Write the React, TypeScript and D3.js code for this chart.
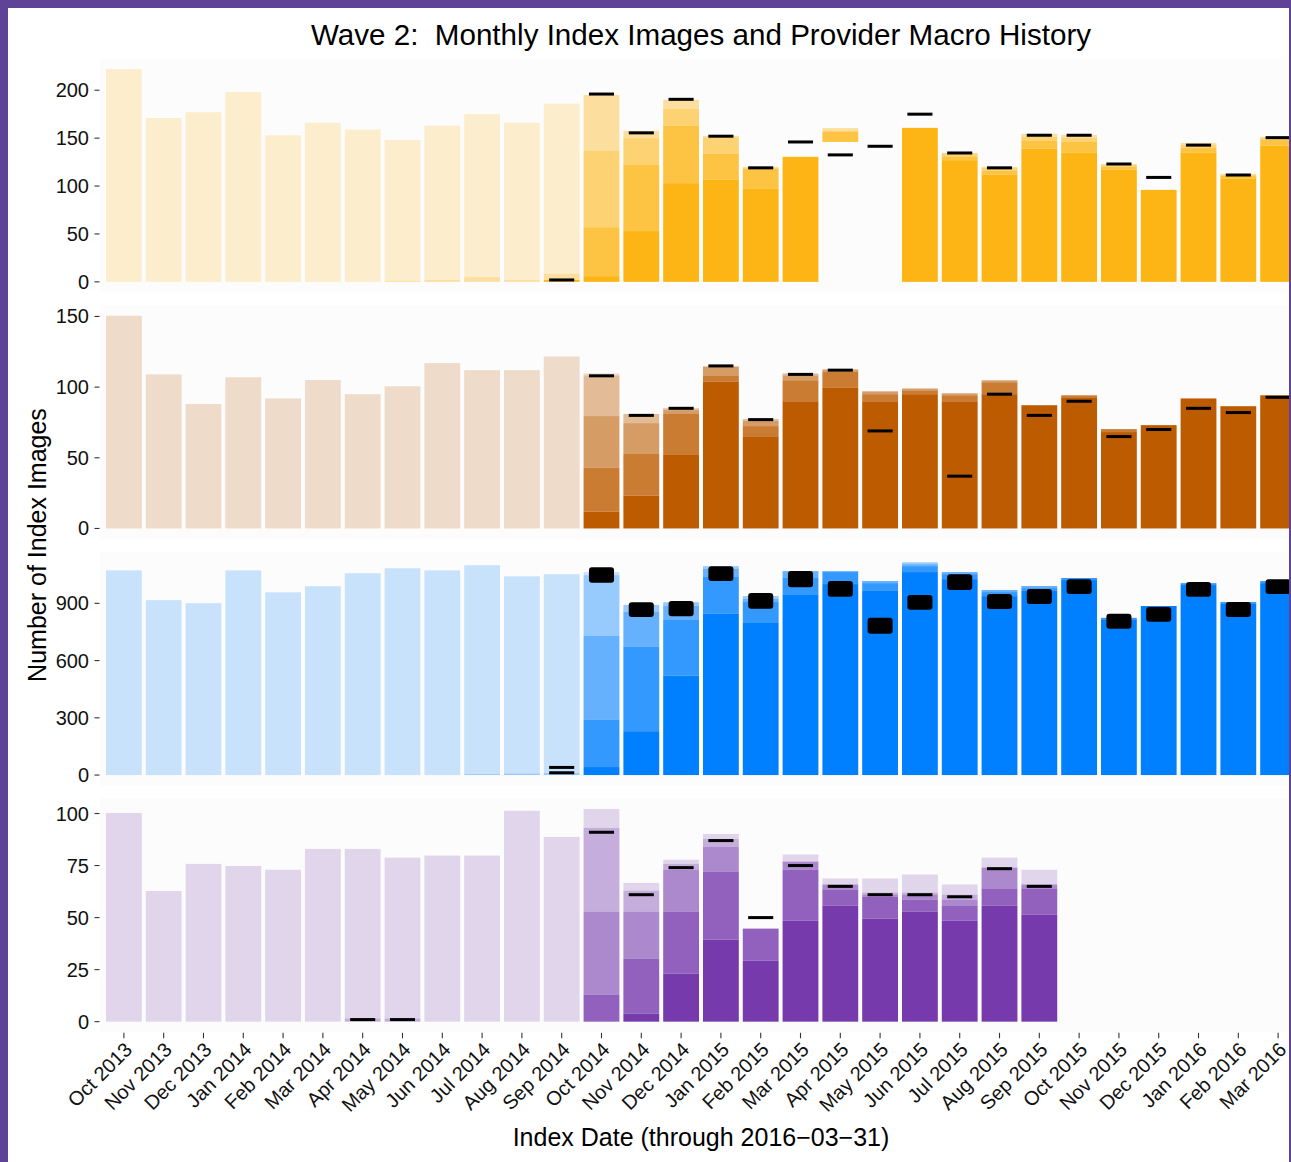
import React from "react";
import * as d3 from "d3";

const months = [
  "Oct 2013", "Nov 2013", "Dec 2013", "Jan 2014", "Feb 2014", "Mar 2014",
  "Apr 2014", "May 2014", "Jun 2014", "Jul 2014", "Aug 2014", "Sep 2014",
  "Oct 2014", "Nov 2014", "Dec 2014", "Jan 2015", "Feb 2015", "Mar 2015",
  "Apr 2015", "May 2015", "Jun 2015", "Jul 2015", "Aug 2015", "Sep 2015",
  "Oct 2015", "Nov 2015", "Dec 2015", "Jan 2016", "Feb 2016", "Mar 2016",
];

// ---- Panel 1 (gold) ----
const goldGap = [0,0,0,0,0,0,0,0,0,0,0,0, 0,0,0,0,0,0,146,0,0,0,0,0,0,0,0,0,0,0];
const goldL1 = [0,0,0,0,0,0,0,0,0,0,0,2, 6,53,103,106.5,97,130.5,0,0,160.7,127,112,139,134.6,117,96,134.6,107.5,142];
const goldL2 = [0,0,0,0,0,0,0,0,0,0,0,0, 51,69,60,27.1,21,0,10.5,0,0,4,4,8,11.4,3,0,5.4,3,6];
const goldL3 = [0,0,0,0,0,0,0,0,0,0,0,0, 80,28,17.5,17,1,0,1,0,0,3,3,4.5,4.5,2,0,3,1.5,2.5];
const goldL4 = [0,0,0,0,0,0,0,1,2,5,2,6.5, 58,7.6,9.5,1.8,1,0,3,0,0,0.6,1,3,2.9,1,0,2,0.7,0.9];
const goldL5 = [222,171,177,198,153,166,159,147,161,170,164,177.5, 0,0,0,0,0,0,0,0,0,0,0,0,0,0,0,0,0,0];
const goldMacroLo = [null,null,null,null,null,null,null,null,null,null,null,2, 196,155.5,190.5,152,119,146,132.5,141.5,175,134.5,119,153,153,123,109,142.7,111.5,150.5];
const goldMacroHi = goldMacroLo;
const goldTicks = [0, 50, 100, 150, 200];

// ---- Panel 2 (rust) ----
const rustGap = [0,0,0,0,0,0,0,0,0,0,0,0, 0,0,0,0,0,0,0,0,0,0,0,0,0,0,0,0,0,0];
const rustL1 = [0,0,0,0,0,0,0,0,0,0,0,0, 12,23.2,52,104,64.7,90,99.8,90,95,90,95,87.2,92.8,68.2,73.1,92,86.5,94.2];
const rustL2 = [0,0,0,0,0,0,0,0,0,0,0,0, 31,29.5,29,4.3,7.7,14.8,11.2,5,2.7,4.2,8.4,0,1.4,2.1,0,0,0,0];
const rustL3 = [0,0,0,0,0,0,0,0,0,0,0,0, 36.5,21.8,2.7,6.3,3.6,3.5,1.5,2,1.3,1.4,1.4,0,0,0,0,0,0,0];
const rustL4 = [0,0,0,0,0,0,0,0,0,0,0,0, 28.8,6.5,1.3,0,1.4,1.4,0,0,0,0,0,0,0,0,0,0,0,0];
const rustL5 = [150.5,109,88,107,92,105,95,100.6,117,112,112,121.7, 1.4,0,0,0,0,0,0,0,0,0,0,0,0,0,0,0,0,0];
const rustMacroLo = [null,null,null,null,null,null,null,null,null,null,null,null, 108,80,85,115,77,109,112,69,null,37,95,80,90,65,70,85,82,92.8];
const rustMacroHi = rustMacroLo;
const rustTicks = [0, 50, 100, 150];

// ---- Panel 3 (blue) ----
const blueGap = [0,0,0,0,0,0,0,0,0,0,0,0, 0,0,0,0,0,0,0,0,0,0,0,0,0,0,0,0,0,0];
const blueL1 = [0,0,0,0,0,0,0,0,0,0,0,0, 42,230,521,845,797,944,1001,965,1064,1027,938,965,1022,813,886,996,897,1006];
const blueL2 = [0,0,0,0,0,0,0,0,0,0,0,0, 249,443,292,193,110,89,63,41,31,26,21,15,11,11,0,10,10,11];
const blueL3 = [0,0,0,0,0,0,0,0,0,0,0,0, 438,182,73,42,16,36,5,11,10,11,11,11,0,0,0,0,0,0];
const blueL4 = [0,0,0,0,0,0,0,0,0,5,8,10, 319,37,20,15,15,0,0,0,10,0,0,0,0,0,0,0,0,0];
const blueL5 = [1073,917,901,1073,958,990,1058,1084,1073,1095,1034,1043, 16,0,0,0,0,0,0,0,0,0,0,0,0,0,0,0,0,0];
const blueMacroLo = [null,null,null,null,null,null,null,null,null,null,null,12, 1008,829,833,1017,872,985,934,741,866,970,871,897,949,767,803,934,829,949];
const blueMacroHi = [null,null,null,null,null,null,null,null,null,null,null,12, 1089,906,912,1095,954,1069,1017,824,944,1053,949,975,1027,845,881,1012,907,1027];
const blueMacroExtraMonth = ["Sep 2014"];
const blueMacroExtraValue = [40];
const blueTicks = [0, 300, 600, 900];

// ---- Panel 4 (plum) ----
const plumGap = [0,0,0,0,0,0,0,0,0,0,0,0, 0,0,0,0,0,0,0,0,0,0,0,0,0,0,0,0,0,0];
const plumL1 = [0,0,0,0,0,0,0,0,0,0,0,0, 0,3.8,23.1,39.4,29.3,48.5,55.8,49.5,52.8,48.5,55.8,51.5, 0,0,0,0,0,0];
const plumL2 = [0,0,0,0,0,0,0,0,0,0,0,0, 13,26.4,29.7,32.6,15.4,24.5,7.7,10.5,5.8,7.3,8.2,12.5, 0,0,0,0,0,0];
const plumL3 = [0,0,0,0,0,0,0,0,0,0,0,0, 39.8,22.6,20.2,12,0,3.9,2.4,1,2.4,2.8,10,1.9, 0,0,0,0,0,0];
const plumL4 = [0,0,0,0,0,0,1.5,1.5,0,0,0,0, 40.3,10.1,2.8,3.8,0,0,0,1,1,2.4,0,0, 0,0,0,0,0,0];
const plumL5 = [100.3,62.8,75.8,74.8,73,83,81.5,77.3,79.8,79.8,101.3,88.8, 9.1,3.8,2,2.4,0,3.4,2.9,6.8,8.7,4.9,4.8,7.1, 0,0,0,0,0,0];
const plumMacroLo = [null,null,null,null,null,null,1,1,null,null,null,null, 91,61,74,87,50,75,65,61,61,60,73.5,65, null,null,null,null,null,null];
const plumMacroHi = plumMacroLo;
const plumTicks = [0, 25, 50, 75, 100];

const layerAlpha = [1, 0.8, 0.6, 0.4, 0.2];
const keys = ["gap", "l1", "l2", "l3", "l4", "l5"];

const panels = [
  { color: "#FDB515", gap: goldGap, layers: [goldL1, goldL2, goldL3, goldL4, goldL5], lo: goldMacroLo, hi: goldMacroHi, ticks: goldTicks, extraM: [] as string[], extraV: [] as number[] },
  { color: "#BD5B00", gap: rustGap, layers: [rustL1, rustL2, rustL3, rustL4, rustL5], lo: rustMacroLo, hi: rustMacroHi, ticks: rustTicks, extraM: [] as string[], extraV: [] as number[] },
  { color: "#007FFF", gap: blueGap, layers: [blueL1, blueL2, blueL3, blueL4, blueL5], lo: blueMacroLo, hi: blueMacroHi, ticks: blueTicks, extraM: blueMacroExtraMonth, extraV: blueMacroExtraValue },
  { color: "#763AAD", gap: plumGap, layers: [plumL1, plumL2, plumL3, plumL4, plumL5], lo: plumMacroLo, hi: plumMacroHi, ticks: plumTicks, extraM: [] as string[], extraV: [] as number[] },
];

const W = 1291;
const H = 1162;
const FONT = "'Liberation Sans', Arial, Helvetica, sans-serif";
const PANEL_TOP = 58.5;
const PANEL_H = 234;
const PANEL_GAP = 12.6;
const PANEL_LEFT = 100;
const PANEL_RIGHT = 1302;
const PANEL_BG = "#FCFCFC";
const BORDER = "#5E4396";
const TICK_FS = 20;

const x = d3.scaleBand<string>().domain(months).range([PANEL_LEFT, PANEL_RIGHT]).paddingInner(0.1).paddingOuter(0.15);

function Panel({ p, k, last }: { p: typeof panels[number]; k: number; last: boolean }) {
  const top = PANEL_TOP + k * (PANEL_H + PANEL_GAP);
  const bottom = top + PANEL_H;
  const rows = months.map((m, i) => {
    const r: any = { month: m, gap: p.gap[i] };
    p.layers.forEach((L, j) => (r["l" + (j + 1)] = L[i]));
    return r;
  });
  const series = d3.stack<any>().keys(keys)(rows);
  const maxBar = d3.max(series[series.length - 1], (d) => d[1]) as number;
  const maxMark = d3.max(p.hi.filter((v) => v != null) as number[]) || 0;
  const maxV = Math.max(maxBar, maxMark);
  const y = d3.scaleLinear().domain([-0.05 * maxV, 1.05 * maxV]).range([bottom, top]);
  const bw = x.bandwidth();
  const mw = x.step() * 0.63;
  const marks: { m: string; lo: number; hi: number }[] = [];
  months.forEach((m, i) => {
    if (p.lo[i] != null) marks.push({ m, lo: p.lo[i] as number, hi: p.hi[i] as number });
  });
  p.extraM.forEach((m, j) => marks.push({ m, lo: p.extraV[j], hi: p.extraV[j] }));

  return (
    <g>
      <rect x={PANEL_LEFT} y={top} width={PANEL_RIGHT - PANEL_LEFT} height={PANEL_H} fill={PANEL_BG} />
      {series.slice(1).map((s, j) => (
        <g key={j} fill={p.color} fillOpacity={layerAlpha[j]}>
          {s.map((d, i) =>
            d[1] - d[0] > 0 ? (
              <rect key={i} x={x(months[i])} width={bw} y={y(d[1])} height={y(d[0]) - y(d[1])} />
            ) : null
          )}
        </g>
      ))}
      {marks.map((mk, i) => {
        const cx = (x(mk.m) as number) + bw / 2;
        const y1 = y(mk.hi);
        const y2 = y(mk.lo);
        const th = Math.max(3, y2 - y1);
        const yc = (y1 + y2) / 2;
        return (
          <rect key={"m" + i} x={cx - mw / 2} width={mw} y={yc - th / 2} height={th} rx={th > 6 ? 3 : 0} fill="#000" />
        );
      })}
      {p.ticks.map((t) => (
        <g key={t}>
          <line x1={94.5} x2={99.5} y1={y(t)} y2={y(t)} stroke="#333" strokeWidth={1.1} />
          <text x={89} y={y(t)} dy="0.35em" textAnchor="end" fontSize={TICK_FS} fontFamily={FONT} fill="#111">
            {t}
          </text>
        </g>
      ))}
      {last &&
        months.map((m) => {
          const cx = (x(m) as number) + bw / 2;
          return (
            <g key={m}>
              <line x1={cx} x2={cx} y1={bottom + 0.5} y2={bottom + 6} stroke="#333" strokeWidth={1.1} />
              <text transform={`translate(${cx + 9.5},${bottom + 18.5}) rotate(-45)`} textAnchor="end" fontSize={TICK_FS} fontFamily={FONT} fill="#111">
                {m}
              </text>
            </g>
          );
        })}
    </g>
  );
}

export default function App() {
  return (
    <svg width={W} height={H} style={{ position: "absolute", left: 0, top: 0, background: "#fff" }}>
      <rect x={0} y={0} width={W} height={H} fill="#fff" />
      {panels.map((p, k) => (
        <Panel key={k} p={p} k={k} last={k === panels.length - 1} />
      ))}
      <text x={701} y={45} textAnchor="middle" fontSize={29.6} fontFamily={FONT} fill="#000" style={{ whiteSpace: "pre" }}>
        {"Wave 2:  Monthly Index Images and Provider Macro History"}
      </text>
      <text x={701} y={1146} textAnchor="middle" fontSize={25} fontFamily={FONT} fill="#000">
        Index Date (through 2016−03−31)
      </text>
      <text transform="translate(46,545) rotate(-90)" textAnchor="middle" fontSize={25} fontFamily={FONT} fill="#000">
        Number of Index Images
      </text>
      <rect x={0} y={0} width={8} height={H} fill={BORDER} />
      <rect x={0} y={0} width={W} height={8} fill={BORDER} />
      <rect x={1289} y={0} width={2} height={H} fill={BORDER} />
    </svg>
  );
}
